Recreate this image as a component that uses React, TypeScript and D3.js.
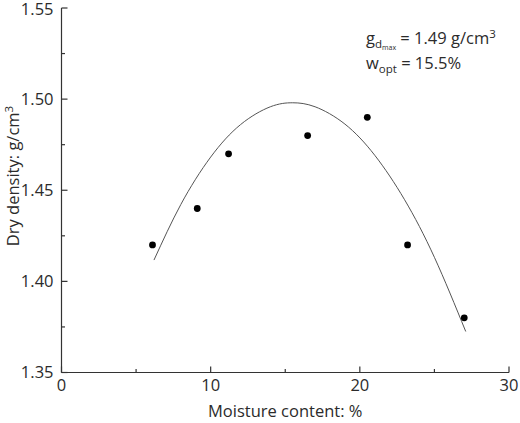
import React from "react";
import * as d3 from "d3";

const pointX = [6.1, 9.1, 11.2, 16.5, 20.5, 23.2, 27.0];
const pointY = [1.42, 1.44, 1.47, 1.48, 1.49, 1.42, 1.38];

const curveX = [6.2, 8, 10, 12, 14, 15.5, 17, 19, 21, 23, 25, 27.1];
const curveY = [1.4117, 1.4422, 1.4682, 1.486, 1.4958, 1.498, 1.4958, 1.4863, 1.4692, 1.4448, 1.4132, 1.3725];

const xMajor = [0, 10, 20, 30];
const xMinor = [5, 15, 25];
const yMajor = [1.35, 1.4, 1.45, 1.5, 1.55];
const yMinor = [1.375, 1.425, 1.475, 1.525];

const W = 520;
const H = 423;
const FONT = "'Open Sans', 'Noto Sans', sans-serif";
const TXT = "#2b2b2b";
const FS = 16.5;

export default function App() {
  const x = d3.scaleLinear().domain([0, 30]).range([61.5, 509]);
  const y = d3.scaleLinear().domain([1.35, 1.55]).range([372.5, 8]);
  const line = d3
    .line<number>()
    .x((_, i) => x(curveX[i]))
    .y((d) => y(d))
    .curve(d3.curveNatural);
  const x0 = x(0);
  const y0 = y(1.35);
  return (
    <svg width={W} height={H} style={{ position: "absolute", left: 0, top: 0, background: "#fff" }} fontFamily={FONT}>
      <rect width={W} height={H} fill="#fff" />
      <path d={line(curveY) || ""} fill="none" stroke="#555" strokeWidth={1} />
      {pointX.map((px, i) => (
        <circle key={i} cx={x(px)} cy={y(pointY[i])} r={3.4} fill="#000" />
      ))}
      <line x1={x0} x2={x0} y1={y(1.55)} y2={y0} stroke="#333" strokeWidth={1.2} />
      <line x1={x0} x2={x(30)} y1={y0} y2={y0} stroke="#333" strokeWidth={1.2} />
      {yMajor.map((v) => (
        <g key={"ym" + v}>
          <line x1={x0} x2={x0 + 6} y1={y(v)} y2={y(v)} stroke="#333" strokeWidth={1.2} />
          <text x={x0 - 8} y={y(v)} dy={v === 1.55 ? "0.45em" : "0.36em"} textAnchor="end" fontSize={FS} fill={TXT}>
            {v.toFixed(2)}
          </text>
        </g>
      ))}
      {yMinor.map((v) => (
        <line key={"yn" + v} x1={x0} x2={x0 + 3.5} y1={y(v)} y2={y(v)} stroke="#333" strokeWidth={1.2} />
      ))}
      {xMajor.map((v) => (
        <g key={"xm" + v}>
          <line x1={x(v)} x2={x(v)} y1={y0} y2={y0 - 6} stroke="#333" strokeWidth={1.2} />
          <text x={x(v)} y={y0 + 18.5} textAnchor="middle" fontSize={FS} fill={TXT}>
            {v}
          </text>
        </g>
      ))}
      {xMinor.map((v) => (
        <line key={"xn" + v} x1={x(v)} x2={x(v)} y1={y0} y2={y0 - 3.5} stroke="#333" strokeWidth={1.2} />
      ))}
      <text x={(x0 + x(30)) / 2} y={417} textAnchor="middle" fontSize={FS} fill={TXT}>
        Moisture content: %
      </text>
      <text transform={`translate(19, 176) rotate(-90)`} textAnchor="middle" fontSize={FS} fill={TXT}>
        Dry density: g/cm<tspan dy={-6} fontSize={11.5}>3</tspan>
      </text>
      <text x={366} y={44} fontSize={FS} fill={TXT}>
        g<tspan dy={4} fontSize={11.5}>d</tspan>
        <tspan dy={2} fontSize={7}>max</tspan>
        <tspan dy={-6} fontSize={FS}> = 1.49 g/cm</tspan>
        <tspan dy={-6} fontSize={11.5}>3</tspan>
      </text>
      <text x={366} y={69} fontSize={FS} fill={TXT}>
        w<tspan dy={4} fontSize={11.5}>opt</tspan>
        <tspan dy={-4} fontSize={FS}> = 15.5%</tspan>
      </text>
    </svg>
  );
}
